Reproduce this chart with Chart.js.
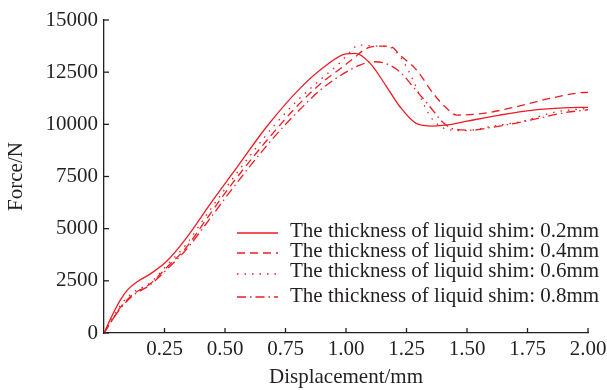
<!DOCTYPE html>
<html>
<head>
<meta charset="utf-8">
<script src="https://cdn.jsdelivr.net/npm/chart.js@4"></script>
<style>
html,body{margin:0;padding:0;background:#fff;}
#wrap{width:607px;height:390px;position:relative;}
</style>
</head>
<body>
<div id="wrap"><canvas id="c" width="607" height="390"></canvas></div>
<script>
// ---- data (displacement in mm, force in N) ----
const seriesLabels = [
  "The thickness of liquid shim: 0.2mm",
  "The thickness of liquid shim: 0.4mm",
  "The thickness of liquid shim: 0.6mm",
  "The thickness of liquid shim: 0.8mm"
];
const disp02  = [0,0.03,0.066,0.1,0.14,0.19,0.26,0.34,0.44,0.55,0.672,0.81,0.92,1.0,1.04,1.1,1.168,1.223,1.29,1.36,1.42,1.5,1.636,1.774,1.9,2.0];
const force02 = [0,750,1550,2100,2480,2820,3450,4550,6200,7950,9885,11724,12841,13380,13400,12920,11800,10843,10048,9918,9970,10150,10446,10685,10790,10815];

const disp04  = [0,0.03,0.066,0.12,0.19,0.26,0.34,0.42,0.5,0.6,0.7,0.8,0.9,0.98,1.03,1.085,1.153,1.19,1.223,1.292,1.36,1.416,1.457,1.567,1.705,1.843,1.967,2.0];
const force04 = [0,550,1200,1850,2350,3150,4100,5400,6700,8200,9600,10900,12000,12700,13150,13640,13750,13700,13320,12600,11485,10767,10446,10527,10843,11245,11514,11530];

const disp06  = [0,0.03,0.066,0.12,0.19,0.26,0.34,0.42,0.5,0.6,0.7,0.8,0.9,0.97,1.02,1.05,1.12,1.18,1.22,1.264,1.326,1.36,1.43,1.5,1.6,1.72,1.87,2.0];
const force06 = [0,600,1300,1950,2400,3250,4250,5600,6900,8450,9900,11150,12200,12900,13500,13800,13750,13700,13300,12444,10843,10200,9730,9700,9900,10125,10600,10770];

const disp08  = [0,0.03,0.066,0.12,0.19,0.26,0.34,0.42,0.5,0.6,0.7,0.8,0.9,1.0,1.06,1.12,1.18,1.23,1.277,1.347,1.4,1.45,1.52,1.6,1.7,1.8,1.9,2.0];
const force08 = [0,550,1150,1800,2300,3050,4000,5200,6450,7950,9350,10600,11700,12500,12850,13000,12840,12440,11800,10843,10100,9760,9720,9850,10050,10300,10550,10700];

const xTicks = [0.25,0.5,0.75,1.0,1.25,1.5,1.75,2.0];
const yTicks = [0,2500,5000,7500,10000,12500,15000];

// ---- styling ----
const RED = 'rgb(237,28,36)';
const INK = '#231f20';
const FONT = "'Liberation Serif', 'Times New Roman', serif";
const dashes = [[], [8,5], [1.5,6], [9,4,1.5,4]];

function pts(xs, ys){ return xs.map((x,i)=>({x:x, y:ys[i]})); }
const allX = [disp02, disp04, disp06, disp08];
const allY = [force02, force04, force06, force08];

const datasets = seriesLabels.map((lab,i)=>({
  label: lab,
  data: pts(allX[i], allY[i]),
  borderColor: RED,
  borderWidth: 1.3,
  borderDash: dashes[i],
  pointRadius: 0,
  cubicInterpolationMode: 'monotone',
  fill: false
}));

const inwardTicks = {
  id: 'inwardTicks',
  afterDraw(chart){
    const ctx = chart.ctx, xs = chart.scales.x, ys = chart.scales.y;
    ctx.save();
    ctx.strokeStyle = INK; ctx.lineWidth = 1.3;
    const len = 5;
    xTicks.forEach(v=>{
      const px = xs.getPixelForValue(v);
      ctx.beginPath(); ctx.moveTo(px, ys.bottom); ctx.lineTo(px, ys.bottom - len); ctx.stroke();
    });
    yTicks.forEach(v=>{
      const py = ys.getPixelForValue(v);
      ctx.beginPath(); ctx.moveTo(xs.left, py); ctx.lineTo(xs.left + len, py); ctx.stroke();
    });
    ctx.restore();
  }
};

const customLegend = {
  id: 'customLegend',
  afterDraw(chart, args, opts){
    const ctx = chart.ctx;
    ctx.save();
    ctx.font = "21px " + FONT;
    ctx.textBaseline = 'middle';
    ctx.textAlign = 'left';
    chart.data.datasets.forEach((ds,i)=>{
      const y = opts.rows[i];
      ctx.strokeStyle = ds.borderColor;
      ctx.lineWidth = 1.3;
      ctx.setLineDash(ds.borderDash || []);
      ctx.beginPath(); ctx.moveTo(opts.x1, y + opts.lineOff[i]); ctx.lineTo(opts.x2, y + opts.lineOff[i]); ctx.stroke();
      ctx.setLineDash([]);
      ctx.fillStyle = INK;
      ctx.fillText(ds.label, opts.textX, y);
    });
    ctx.restore();
  }
};

new Chart(document.getElementById('c'), {
  type: 'line',
  data: { datasets },
  plugins: [inwardTicks, customLegend],
  options: {
    responsive: false,
    animation: false,
    devicePixelRatio: 1,
    layout: { padding: { left: 0, top: 20, right: 19, bottom: 0 } },
    plugins: {
      legend: { display: false },
      tooltip: { enabled: false },
      customLegend: { x1: 237, x2: 278, textX: 290, rows: [231, 251, 271, 296], lineOff: [2, 2, 3, 1] }
    },
    scales: {
      x: {
        type: 'linear', min: 0, max: 2,
        afterFit(s){ s.height = 57; s.paddingRight = 0; s.paddingLeft = 0; },
        afterBuildTicks(s){ s.ticks = [0].concat(xTicks).map(v=>({value:v})); },
        grid: { display: true, drawOnChartArea: false, drawTicks: false },
        border: { display: true, color: INK, width: 1.3 },
        ticks: {
          padding: 4, color: INK, maxRotation: 0, autoSkip: false,
          font: { family: FONT, size: 21 },
          callback: v => v === 0 ? '' : Number(v).toFixed(2)
        },
        title: { display: true, text: 'Displacement/mm', color: INK,
          font: { family: FONT, size: 21 }, padding: { top: 0, bottom: 0 } }
      },
      y: {
        type: 'linear', min: 0, max: 15000,
        afterFit(s){ s.width = 104; s.paddingTop = 0; s.paddingBottom = 0; },
        afterBuildTicks(s){ s.ticks = yTicks.map(v=>({value:v})); },
        grid: { display: true, drawOnChartArea: false, drawTicks: false },
        border: { display: true, color: INK, width: 1.3 },
        ticks: {
          padding: 6, color: INK, autoSkip: false,
          font: { family: FONT, size: 21 },
          callback: v => String(v)
        },
        title: { display: true, text: 'Force/N', color: INK,
          font: { family: FONT, size: 21 }, padding: { top: 4, bottom: 0 } }
      }
    }
  }
});
</script>
</body>
</html>
